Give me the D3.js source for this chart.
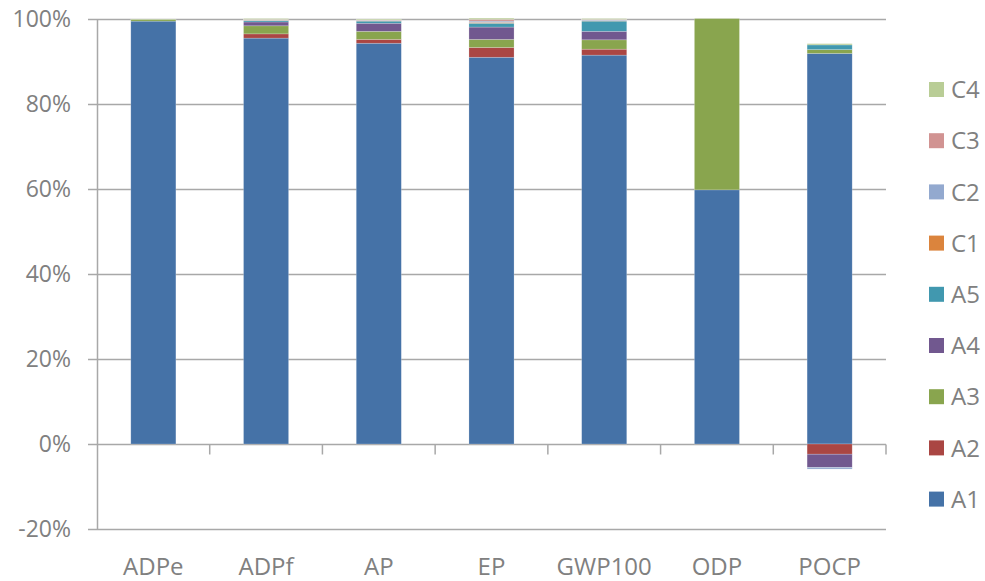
<!DOCTYPE html>
<html>
<head>
<meta charset="utf-8">
<script src="https://cdn.jsdelivr.net/npm/d3@7"></script>
<style>
  html, body { margin: 0; padding: 0; background: #fff; }
  svg { display: block; }
</style>
</head>
<body>
<div id="chart"></div>
<script>
// Gestapelde staafdiagram: aandeel per levensfase (A1..C4) per impactcategorie.
const categories = ['ADPe', 'ADPf', 'AP', 'EP', 'GWP100', 'ODP', 'POCP'];
const seriesNames = ['A1', 'A2', 'A3', 'A4', 'A5', 'C1', 'C2', 'C3', 'C4'];
const seriesColors = ['#4572a7', '#aa4643', '#89a54e', '#71588f', '#4198af', '#db843d', '#93a9cf', '#d19392', '#b9cd96'];

// waarden in %, per fase (zelfde volgorde als categories)
const A1 = [99.5, 95.5, 94.3, 91.0, 91.5, 59.8, 91.9];
const A2 = [0.0, 1.0, 0.9, 2.3, 1.4, 0.0, -2.4];
const A3 = [0.4, 1.9, 1.9, 1.9, 2.2, 40.3, 0.9];
const A4 = [0.0, 0.9, 1.9, 2.9, 2.0, 0.0, -3.1];
const A5 = [0.0, 0.3, 0.5, 0.9, 2.4, 0.0, 1.1];
const C1 = [0.0, 0.1, 0.1, 0.2, 0.1, 0.0, 0.0];
const C2 = [0.0, 0.1, 0.1, 0.3, 0.2, 0.0, -0.4];
const C3 = [0.0, 0.1, 0.1, 0.4, 0.1, 0.0, 0.0];
const C4 = [0.1, 0.2, 0.2, 0.3, 0.2, 0.0, 0.3];
const seriesValues = [A1, A2, A3, A4, A5, C1, C2, C3, C4];

const yTicks = [-20, 0, 20, 40, 60, 80, 100];

const W = 985, H = 581;
const plot = { left: 97, right: 886, top: 19, bottom: 529 };
const FONT = '"Open Sans", sans-serif';
const TEXT = '#808080', AXIS = '#a8a8a8';

const rows = categories.map((c, i) => {
  const r = { cat: c };
  seriesNames.forEach((s, k) => { r[s] = seriesValues[k][i]; });
  return r;
});
const stacked = d3.stack().keys(seriesNames).offset(d3.stackOffsetDiverging)(rows);

const x = d3.scaleBand().domain(categories).range([plot.left, plot.right]).paddingInner(0.6).paddingOuter(0.3);
const xOuter = d3.scaleBand().domain(categories).range([plot.left, plot.right]);
const y = d3.scaleLinear().domain([-20, 100]).range([plot.bottom, plot.top]);

const svg = d3.select('#chart').append('svg').attr('width', W).attr('height', H);

// rasterlijnen
svg.append('g').selectAll('line').data(yTicks).join('line')
  .attr('x1', plot.left - 9).attr('x2', plot.right)
  .attr('y1', d => Math.round(y(d)) + 0.5).attr('y2', d => Math.round(y(d)) + 0.5)
  .attr('stroke', AXIS).attr('stroke-width', 1.5);

// staven
svg.append('g').selectAll('g').data(stacked).join('g')
  .attr('fill', (d, i) => seriesColors[i])
  .selectAll('rect').data(d => d).join('rect')
  .attr('x', d => x(d.data.cat)).attr('width', x.bandwidth())
  .attr('y', d => y(Math.max(d[0], d[1])))
  .attr('height', d => Math.abs(y(d[0]) - y(d[1])))
  .attr('stroke', 'rgba(255,255,255,0.35)').attr('stroke-width', 0.6);

// y-as
svg.append('line').attr('x1', plot.left + 0.5).attr('x2', plot.left + 0.5)
  .attr('y1', y(100)).attr('y2', y(-20) + 1)
  .attr('stroke', AXIS).attr('stroke-width', 1.5);
svg.append('g').selectAll('text').data(yTicks).join('text')
  .attr('x', 71).attr('y', d => y(d)).attr('dy', '0.36em')
  .attr('text-anchor', 'end').attr('font-family', FONT).attr('font-size', 23)
  .attr('fill', TEXT).text(d => d + '%');

// x-as op 0% met streepjes tussen categorieën
const y0 = Math.round(y(0)) + 0.5;
svg.append('g').selectAll('line').data(categories).join('line')
  .attr('x1', d => xOuter(d) + xOuter.bandwidth()).attr('x2', d => xOuter(d) + xOuter.bandwidth())
  .attr('y1', y0).attr('y2', y0 + 10)
  .attr('stroke', AXIS).attr('stroke-width', 1.5);
svg.append('g').selectAll('text').data(categories).join('text')
  .attr('x', d => xOuter(d) + xOuter.bandwidth() / 2).attr('y', 575)
  .attr('text-anchor', 'middle').attr('font-family', FONT).attr('font-size', 24)
  .attr('fill', TEXT).text(d => d);

// legenda (omgekeerde volgorde: C4 boven)
const legend = svg.append('g').selectAll('g').data(seriesNames.slice().reverse()).join('g')
  .attr('transform', (d, i) => `translate(929,${89.5 + i * 51.2})`);
legend.append('rect').attr('x', 0).attr('y', -7.5).attr('width', 15).attr('height', 15)
  .attr('fill', d => seriesColors[seriesNames.indexOf(d)]);
legend.append('text').attr('x', 22).attr('y', 0).attr('dy', '0.36em')
  .attr('font-family', FONT).attr('font-size', 24).attr('fill', TEXT).text(d => d);
</script>
</body>
</html>
